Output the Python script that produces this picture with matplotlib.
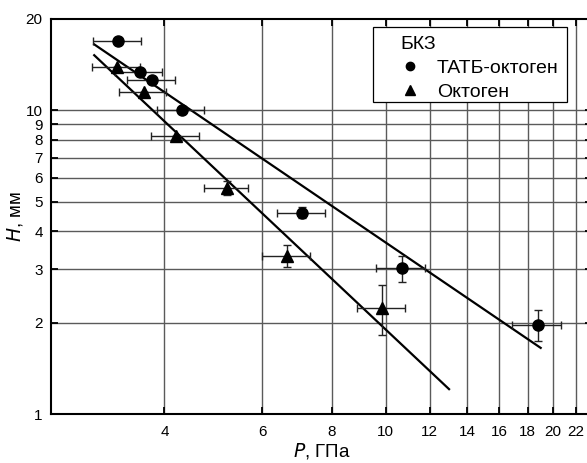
import matplotlib
matplotlib.use("Agg")
import matplotlib.pyplot as plt
from matplotlib.ticker import FixedLocator, NullLocator, FixedFormatter
from matplotlib.lines import Line2D
from matplotlib.patches import Rectangle

plt.rcParams['font.family'] = ['Liberation Sans', 'DejaVu Sans']

# ТАТБ-октоген (circles)
tatb_P = [3.30, 3.61, 3.80, 4.30, 7.08, 10.7, 18.8]
tatb_H = [16.9, 13.4, 12.6, 10.0, 4.61, 3.03, 1.97]
tatb_Perr = [0.33, 0.35, 0.37, 0.42, 0.70, 1.08, 1.9]
tatb_Herr = [0.0, 0.0, 0.0, 0.0, 0.2, 0.3, 0.23]

# Октоген (triangles)
okt_P = [3.29, 3.67, 4.20, 5.19, 6.65, 9.85]
okt_H = [13.9, 11.5, 8.24, 5.57, 3.33, 2.24]
okt_Perr = [0.33, 0.36, 0.41, 0.47, 0.66, 0.98]
okt_Herr = [0.0, 0.0, 0.0, 0.3, 0.28, 0.42]

# fitted lines (endpoints)
fit_tatb_P = [2.99, 19.0]
fit_tatb_H = [16.5, 1.654]
fit_okt_P = [2.99, 13.0]
fit_okt_H = [15.2, 1.21]

xticks = [4, 6, 8, 10, 12, 14, 16, 18, 20, 22]
yticks = [1, 2, 3, 4, 5, 6, 7, 8, 9, 10, 20]
ygrid = [2, 3, 4, 5, 6, 7, 8, 9, 10]

W, H = 587, 463
fig = plt.figure(figsize=(W / 100, H / 100), dpi=100)
ax = fig.add_axes([51 / W, 48.7 / H, 541 / W, 395.3 / H])
ax.set_xscale('log')
ax.set_yscale('log')
ax.set_xlim(2.5, 23.5)
ax.set_ylim(1, 20)

gcol = '#5a5a5a'
for xv in xticks:
    ax.axvline(xv, color=gcol, lw=1.0, zorder=1)
for yv in ygrid:
    ax.axhline(yv, color=gcol, lw=1.0, zorder=1)

ax.plot(fit_tatb_P, fit_tatb_H, color='black', lw=1.6, zorder=3)
ax.plot(fit_okt_P, fit_okt_H, color='black', lw=1.6, zorder=3)

ax.errorbar(tatb_P, tatb_H, xerr=tatb_Perr, yerr=tatb_Herr, fmt='o', color='black',
            ms=8, ecolor='#222222', elinewidth=1.0, capsize=3, capthick=1.0, zorder=4)
ax.errorbar(okt_P, okt_H, xerr=okt_Perr, yerr=okt_Herr, fmt='^', color='black',
            ms=9, ecolor='#222222', elinewidth=1.0, capsize=3, capthick=1.0, zorder=4)

ax.xaxis.set_major_locator(FixedLocator(xticks))
ax.xaxis.set_major_formatter(FixedFormatter([str(v) for v in xticks]))
ax.xaxis.set_minor_locator(NullLocator())
ax.yaxis.set_major_locator(FixedLocator(yticks))
ax.yaxis.set_major_formatter(FixedFormatter([str(v) for v in yticks]))
ax.yaxis.set_minor_locator(NullLocator())

ax.tick_params(axis='both', which='major', direction='in', length=5, width=1.3,
               top=True, right=True, labelsize=11, colors='black')
ax.tick_params(axis='x', pad=8)
ax.tick_params(axis='y', pad=6)

for s in ax.spines.values():
    s.set_linewidth(1.5)
    s.set_color('black')

ax.set_xlabel(r'$P$, ГПа', fontsize=13.5, labelpad=1)
ax.set_ylabel(r'$H$, мм', fontsize=13.5, labelpad=0.5)

# legend frame
ax.add_patch(Rectangle((0.5952, 0.790), 0.953 - 0.5952, 0.9805 - 0.790,
                       transform=ax.transAxes, facecolor='white', edgecolor='black',
                       lw=0.9, zorder=9))

h1 = Line2D([], [], marker='o', color='black', ls='none', ms=6)
h2 = Line2D([], [], marker='^', color='black', ls='none', ms=7)
leg = ax.legend([h1, h2], ['ТАТБ-октоген', 'Октоген'], title='БКЗ',
                loc='upper left', bbox_to_anchor=(0.646, 0.957), borderaxespad=0,
                fontsize=14, title_fontsize=14, frameon=False,
                handlelength=1.0, handletextpad=0.86,
                borderpad=0.0, labelspacing=0.32)
leg._legend_box.align = 'left'
leg.set_zorder(10)

fig.savefig('out.png', dpi=100)
